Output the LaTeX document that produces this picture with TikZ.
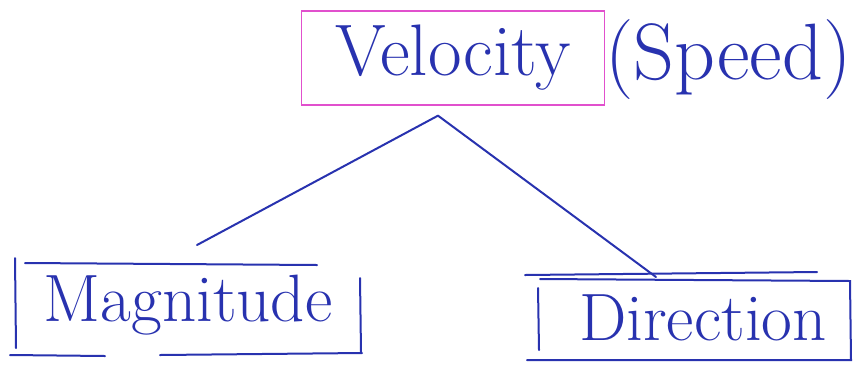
\documentclass[tikz,border=0pt]{standalone}
\usepackage{tikz}
\usetikzlibrary{positioning,calc}
\definecolor{penblue}{RGB}{40,50,175}
\definecolor{penpink}{RGB}{225,80,205}

\begin{document}
\begin{tikzpicture}[
    x=1pt, y=-1pt,
    ink/.style={draw=penblue, line width=2pt, line cap=round},
    word/.style={text=penblue, font=\fontsize{67}{80}\selectfont, inner sep=0pt},
]
    \useasboundingbox (0,0) rectangle (861,373);

    % Top word
    \node[word, draw=penpink, line width=1.3pt, minimum width=303pt, minimum height=94pt,
          font=\fontsize{73}{80}\selectfont] (vel) at (453,58) {Velocity};
    \node[word, anchor=west, font=\fontsize{80}{90}\selectfont] (speed) at (605,60) {(Speed)};
    \coordinate (apex) at ($(vel.south)+(-15,10)$);

    % Bottom words
    \node[word] (mag) at (188,305) {Magnitude};
    \node[word] (dir) at (703,318) {Direction};
    \coordinate (magtop) at (197,245);
    \coordinate (dirtop) at (656,277);

    % Open frame round Magnitude
    \draw[ink] (25,263) -- (317,265);
    \draw[ink] (15,258) -- (16,348);
    \draw[ink] (10,355) -- (105,356);
    \draw[ink] (160,355) -- (362,353);
    \draw[ink] (360,278) -- (361,352);

    % Frame round Direction
    \draw[ink] (525,275) -- (817,272);
    \draw[ink] (540,279) -- (850,281) -- (851,360) -- (527,360);
    \draw[ink] (538,288) -- (539,350);

    % Connections
    \draw[ink] (apex) -- (magtop);
    \draw[ink] (apex) -- (dirtop);

\end{tikzpicture}
\end{document}
